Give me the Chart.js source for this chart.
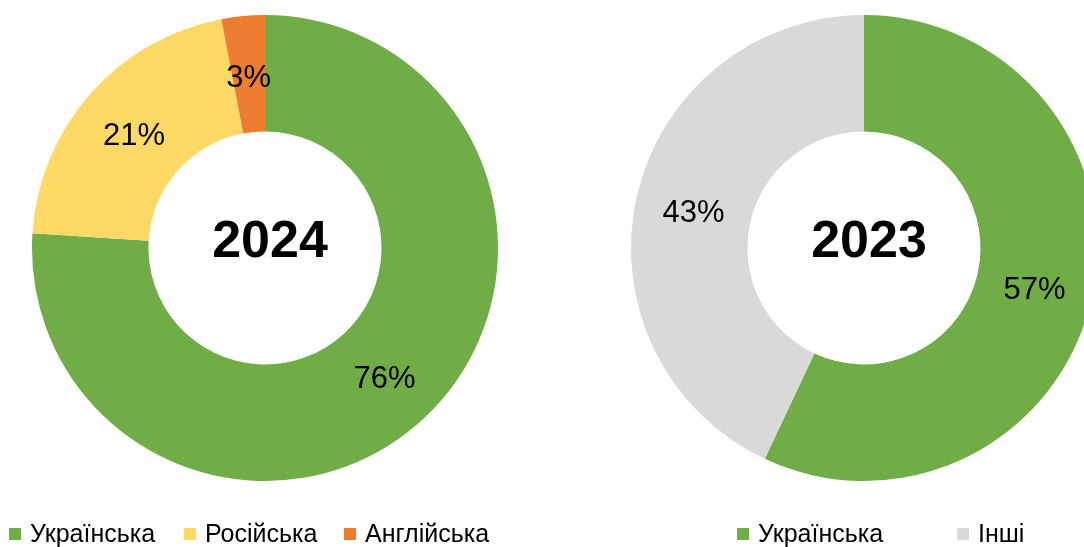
<!DOCTYPE html>
<html>
<head>
<meta charset="utf-8">
<script src="https://cdn.jsdelivr.net/npm/chart.js@4/dist/chart.umd.min.js"></script>
<style>
  html, body { margin: 0; padding: 0; background: #fff; width: 1084px; height: 547px; overflow: hidden; position: relative; }
  canvas { position: absolute; top: 0; }
  #c1 { left: 0; }
  #c2 { left: 564px; }
</style>
</head>
<body>
<canvas id="c1" width="530" height="547"></canvas>
<canvas id="c2" width="600" height="547"></canvas>
<script>
// ---- data ----
const labels2024 = ['Українська', 'Російська', 'Англійська'];
const values2024 = [76, 21, 3];
const colors2024 = ['#70AD47', '#FFD966', '#ED7D31'];
const title2024 = '2024';

const labels2023 = ['Українська', 'Інші'];
const values2023 = [57, 43];
const colors2023 = ['#70AD47', '#D9D9D9'];
const title2023 = '2023';

const FONT = '"Liberation Sans", Arial, sans-serif';

const labelPlugin = {
  id: 'customLabels',
  afterDatasetsDraw(chart, args, opts) {
    const ctx = chart.ctx;
    const meta = chart.getDatasetMeta(0);
    const data = chart.data.datasets[0].data;
    ctx.save();
    // percentage labels in the middle of the ring
    ctx.fillStyle = '#000';
    ctx.font = '31px ' + FONT;
    ctx.textAlign = 'center';
    ctx.textBaseline = 'middle';
    meta.data.forEach((arc, i) => {
      const p = arc.getProps(['x', 'y', 'startAngle', 'endAngle', 'innerRadius', 'outerRadius'], true);
      const a = (p.startAngle + p.endAngle) / 2;
      const r = (p.innerRadius + p.outerRadius) / 2;
      const x = p.x + Math.cos(a) * r;
      const y = p.y + Math.sin(a) * r + 4;
      ctx.fillText(data[i] + '%', x, y);
    });
    // center title
    const a0 = meta.data[0];
    ctx.font = 'bold 52px ' + FONT;
    ctx.fillText(opts.title, a0.x + 5, a0.y - 5);
    // legend
    ctx.font = '25px ' + FONT;
    ctx.textAlign = 'left';
    ctx.textBaseline = 'alphabetic';
    const colors = chart.data.datasets[0].backgroundColor;
    chart.data.labels.forEach((lab, i) => {
      const x = opts.legendX[i];
      ctx.fillStyle = colors[i];
      ctx.fillRect(x, 528, 12, 12);
      ctx.fillStyle = '#000';
      ctx.fillText(lab, x + 21, 542);
    });
    ctx.restore();
  }
};

function makeChart(id, labels, values, colors, title, pad, legendX) {
  return new Chart(document.getElementById(id), {
    type: 'doughnut',
    data: {
      labels: labels,
      datasets: [{ data: values, backgroundColor: colors, borderWidth: 0, hoverOffset: 0 }]
    },
    options: {
      responsive: false,
      animation: false,
      cutout: '50%',
      layout: { padding: pad },
      plugins: {
        legend: { display: false },
        tooltip: { enabled: false },
        customLabels: { title: title, legendX: legendX }
      }
    },
    plugins: [labelPlugin]
  });
}

makeChart('c1', labels2024, values2024, colors2024, title2024,
  { left: 32, right: 32, top: 15, bottom: 66 }, [9, 184, 344]);
makeChart('c2', labels2023, values2023, colors2023, title2023,
  { left: 67, right: 67, top: 15, bottom: 66 }, [737 - 564, 957 - 564]);
</script>
</body>
</html>
